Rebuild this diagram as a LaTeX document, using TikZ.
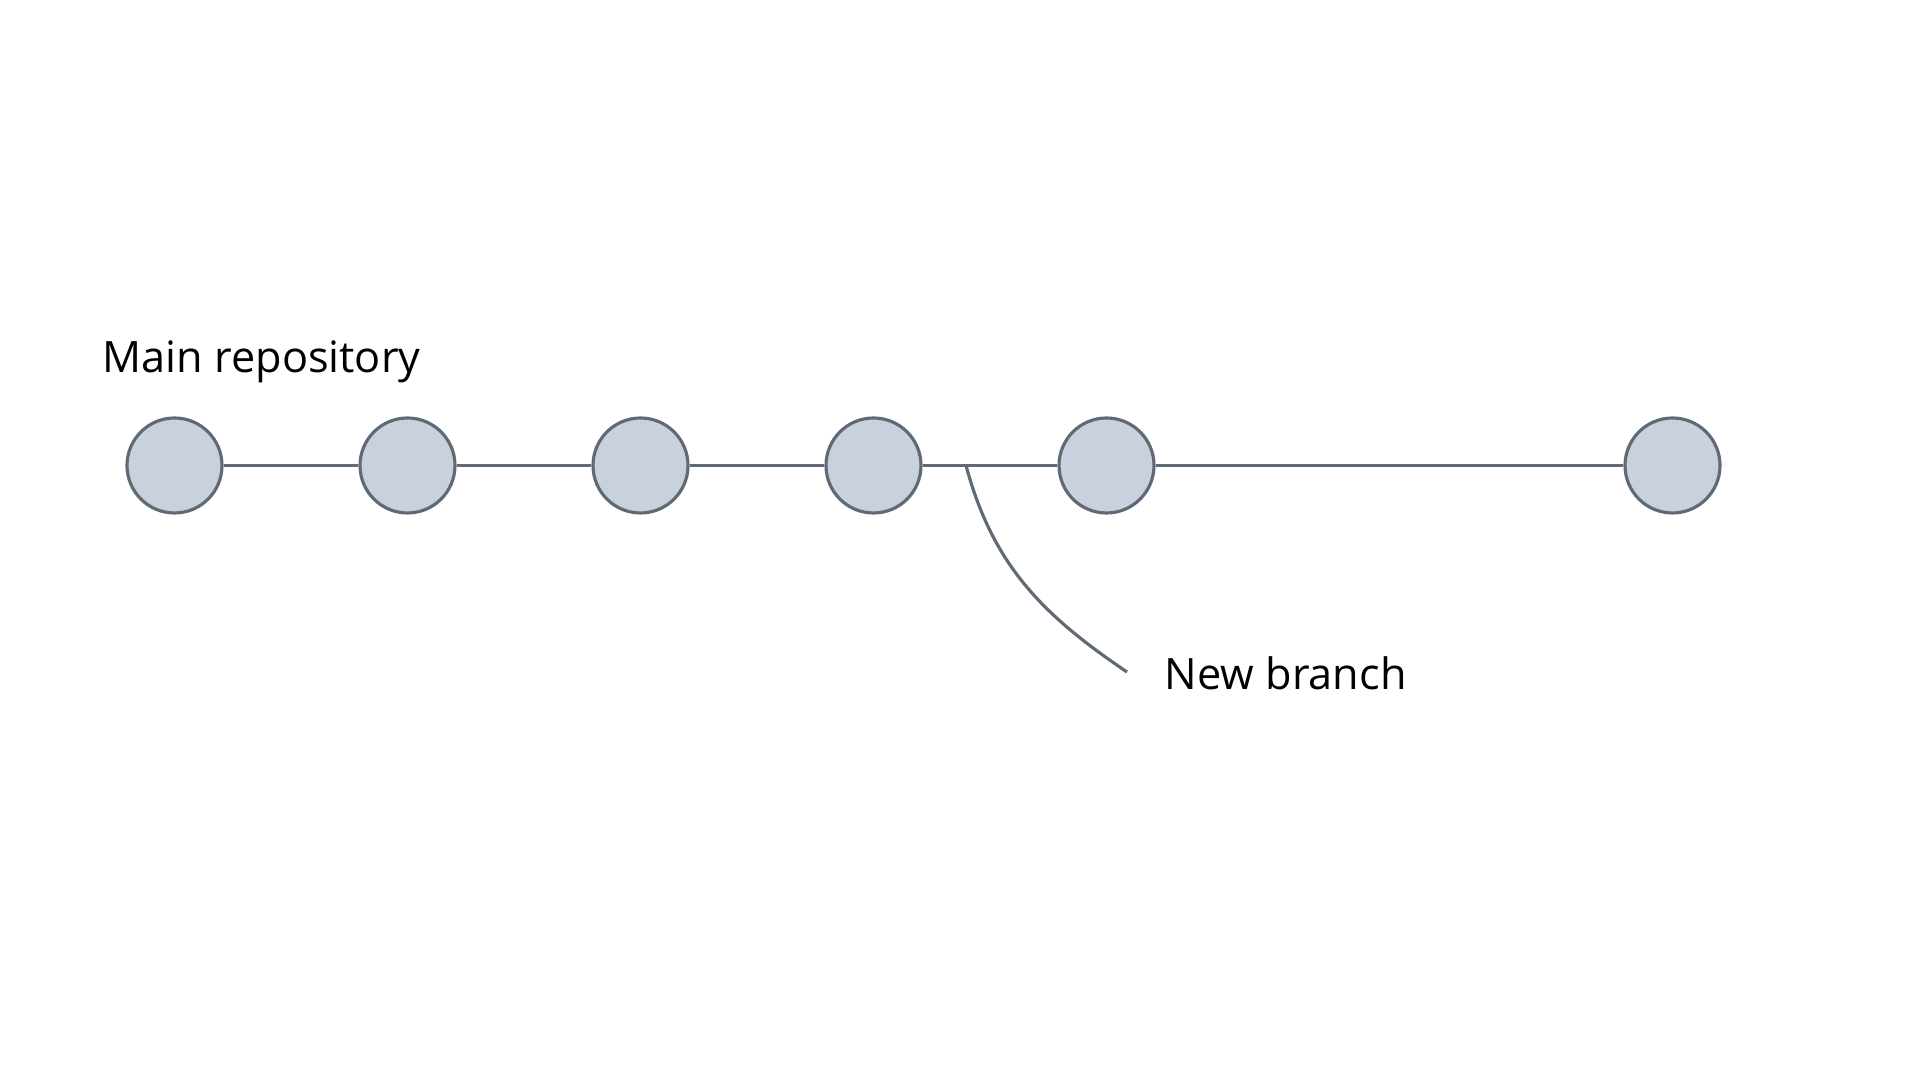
\documentclass[tikz,border=0pt]{standalone}
\usepackage{fontspec}
\setmainfont{Open Sans}
\usetikzlibrary{positioning}
\definecolor{commitfill}{RGB}{201,209,220}
\definecolor{commitline}{RGB}{96,106,118}

\begin{document}
\begin{tikzpicture}[node distance=2.33cm,
  commit/.style={draw=commitline, circle, line width=0.9pt, fill=commitfill, minimum size=0.95cm, inner sep=0pt},
  label text/.style={font=\fontsize{12.3pt}{14pt}\selectfont, inner sep=0pt, text=black}]
\useasboundingbox (0,0) rectangle (19.2,10.8);
\node (c1) [commit] at (1.745,6.145) {};
\node (c2) [commit, right of=c1] {};
\node (c3) [commit, right of=c2] {};
\node (c4) [commit, right of=c3] {};
\node (c5) [commit, right of=c4] {};
\node (c6) [commit, right of=c5, xshift=3.33cm] {};
\node (mainlabel) [label text, anchor=base west] at (1.02,7.07) {Main repository};
\node (branchlabel) [label text, anchor=base west] at (11.64,3.90) {New branch};
\coordinate (fork) at (9.66,6.145);
\coordinate (tip) at (11.27,4.08);
\draw[commitline, line width=0.9pt] (c1) -- (c2);
\draw[commitline, line width=0.9pt] (c2) -- (c3);
\draw[commitline, line width=0.9pt] (c3) -- (c4);
\draw[commitline, line width=0.9pt] (c4) -- (c5);
\draw[commitline, line width=0.9pt] (c5) -- (c6);
\draw[commitline, line width=0.9pt] (fork) to[out=-75, in=146] (tip);
\end{tikzpicture}
\end{document}
